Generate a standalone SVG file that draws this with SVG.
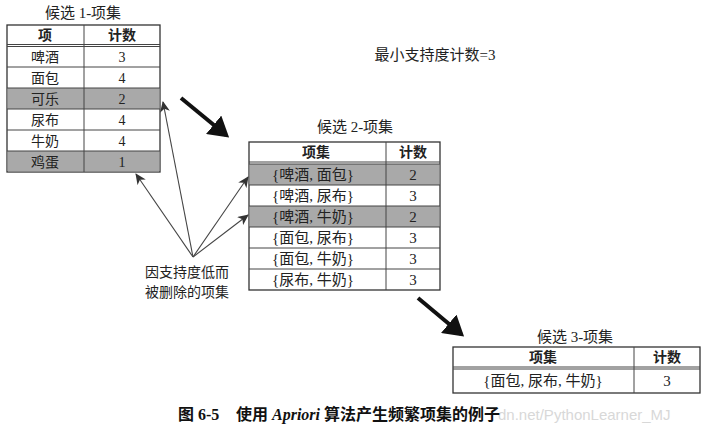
<svg xmlns="http://www.w3.org/2000/svg" width="711" height="435" viewBox="0 0 711 435">
<defs>
<style>
.t{font-family:"Liberation Serif","Noto Sans CJK SC",serif;font-size:14px;fill:#222;text-anchor:middle}
.m{font-size:15px}
.h{font-weight:bold}
.box{fill:#fff;stroke:#333;stroke-width:1.3}
.gray{fill:#a9a9a9}
.ln{stroke:#444;stroke-width:1}
.thick{stroke:#111;stroke-width:4;fill:none}
.thin{stroke:#444;stroke-width:1.1;fill:none}
</style>
<marker id="big" markerWidth="6" markerHeight="6" refX="4" refY="3" orient="auto" markerUnits="strokeWidth">
<path d="M0,0 L5,3 L0,6 Z" fill="#111"/>
</marker>
<marker id="small" markerWidth="12" markerHeight="10" refX="10" refY="5" orient="auto" markerUnits="userSpaceOnUse">
<path d="M0,0 L11,5 L0,10 L3,5 Z" fill="#333"/>
</marker>
</defs>
<rect width="711" height="435" fill="#fff"/>

<g id="table1">
<text class="t m" x="83" y="18">候选 1-项集</text>
<rect class="box" x="7" y="25" width="153" height="147"/>
<rect class="gray" x="7.7" y="88" width="151.6" height="21"/>
<rect class="gray" x="7.7" y="151" width="151.6" height="20.3"/>
<line class="ln" x1="7" y1="44.5" x2="160" y2="44.5"/>
<line class="ln" x1="7" y1="46.5" x2="160" y2="46.5"/>
<line class="ln" x1="7" y1="67" x2="160" y2="67"/>
<line class="ln" x1="7" y1="88" x2="160" y2="88"/>
<line class="ln" x1="7" y1="109" x2="160" y2="109"/>
<line class="ln" x1="7" y1="130" x2="160" y2="130"/>
<line class="ln" x1="7" y1="151" x2="160" y2="151"/>
<line class="ln" x1="84" y1="25" x2="84" y2="172"/>
<text class="t h" x="45" y="40">项</text><text class="t h" x="122" y="40">计数</text>
<text class="t" x="45" y="62">啤酒</text><text class="t" x="122" y="62">3</text>
<text class="t" x="45" y="83">面包</text><text class="t" x="122" y="83">4</text>
<text class="t" x="45" y="104">可乐</text><text class="t" x="122" y="104">2</text>
<text class="t" x="45" y="125">尿布</text><text class="t" x="122" y="125">4</text>
<text class="t" x="45" y="146">牛奶</text><text class="t" x="122" y="146">4</text>
<text class="t" x="45" y="167">鸡蛋</text><text class="t" x="122" y="167">1</text>
</g>

<g id="minsup">
<text class="t m" x="435" y="60">最小支持度计数=3</text>
</g>

<g id="table2">
<text class="t m" x="355" y="132">候选 2-项集</text>
<rect class="box" x="249" y="142" width="191" height="148"/>
<rect class="gray" x="249.7" y="164" width="189.6" height="21"/>
<rect class="gray" x="249.7" y="206" width="189.6" height="21"/>
<line class="ln" x1="249" y1="162" x2="440" y2="162"/>
<line class="ln" x1="249" y1="164" x2="440" y2="164"/>
<line class="ln" x1="249" y1="185" x2="440" y2="185"/>
<line class="ln" x1="249" y1="206" x2="440" y2="206"/>
<line class="ln" x1="249" y1="227" x2="440" y2="227"/>
<line class="ln" x1="249" y1="248" x2="440" y2="248"/>
<line class="ln" x1="249" y1="269" x2="440" y2="269"/>
<line class="ln" x1="386" y1="142" x2="386" y2="290"/>
<text class="t h" x="316" y="157">项集</text><text class="t h" x="413" y="157">计数</text>
<text class="t m" x="313" y="180">{啤酒, 面包}</text><text class="t m" x="413" y="180">2</text>
<text class="t m" x="313" y="201">{啤酒, 尿布}</text><text class="t m" x="413" y="201">3</text>
<text class="t m" x="313" y="222">{啤酒, 牛奶}</text><text class="t m" x="413" y="222">2</text>
<text class="t m" x="313" y="243">{面包, 尿布}</text><text class="t m" x="413" y="243">3</text>
<text class="t m" x="313" y="264">{面包, 牛奶}</text><text class="t m" x="413" y="264">3</text>
<text class="t m" x="313" y="285">{尿布, 牛奶}</text><text class="t m" x="413" y="285">3</text>
</g>

<g id="table3">
<text class="t m" x="575" y="342">候选 3-项集</text>
<rect class="box" x="453" y="347" width="247" height="46"/>
<line class="ln" x1="453" y1="367" x2="700" y2="367"/>
<line class="ln" x1="453" y1="369" x2="700" y2="369"/>
<line class="ln" x1="634" y1="347" x2="634" y2="393"/>
<text class="t h" x="543" y="362">项集</text><text class="t h" x="667" y="362">计数</text>
<text class="t m" x="543" y="386">{面包, 尿布, 牛奶}</text><text class="t m" x="667" y="386">3</text>
</g>

<g id="label">
<text class="t" x="187" y="277">因支持度低而</text>
<text class="t" x="187" y="297">被删除的项集</text>
</g>

<g id="connectors">
<line class="thick" x1="181" y1="98" x2="226" y2="135" marker-end="url(#big)"/>
<line class="thick" x1="418" y1="298" x2="461" y2="334" marker-end="url(#big)"/>
<line class="thin" x1="193" y1="257" x2="136" y2="174" marker-end="url(#small)"/>
<line class="thin" x1="193" y1="257" x2="163" y2="102" marker-end="url(#small)"/>
<line class="thin" x1="193" y1="257" x2="248" y2="177" marker-end="url(#small)"/>
<line class="thin" x1="193" y1="257" x2="248" y2="215" marker-end="url(#small)"/>
</g>

<g id="caption">
<text x="498" y="420" style="font-family:'Liberation Sans',sans-serif;font-size:15px;fill:#d8d8d8">dn.net/PythonLearner_MJ</text>
<text x="178" y="420" style="font-family:'Liberation Serif','Noto Sans CJK SC',serif;font-size:16px;fill:#111;font-weight:bold">图 6-5</text>
<text x="236" y="420" style="font-family:'Liberation Serif','Noto Sans CJK SC',serif;font-size:16px;fill:#111;font-weight:bold">使用 <tspan font-style="italic">Apriori</tspan> 算法产生频繁项集的例子</text>
</g>
</svg>
